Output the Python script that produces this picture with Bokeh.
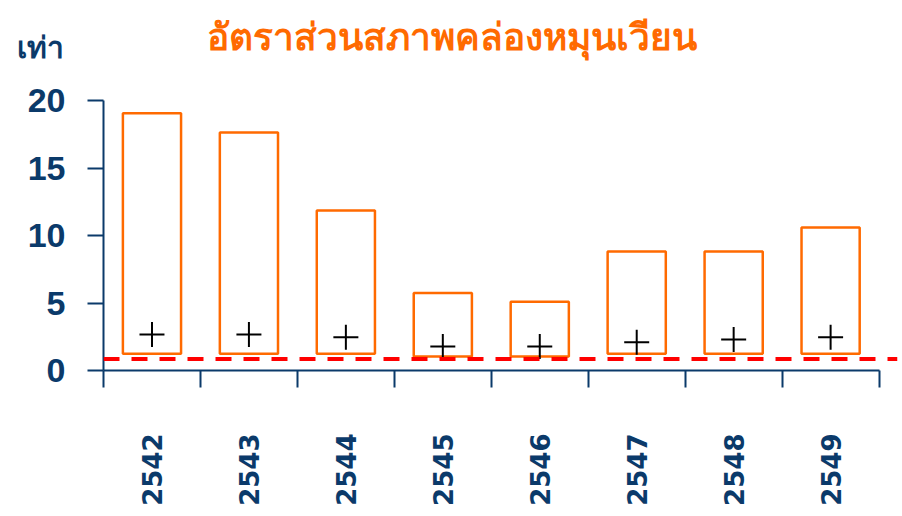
import math
from bokeh.plotting import figure
from bokeh.models import FixedTicker, Span, Label, Range1d
from bokeh.embed import file_html
from bokeh.resources import INLINE

# ---- data ----
years = ["2542", "2543", "2544", "2545", "2546", "2547", "2548", "2549"]
bar_high = [19.06, 17.63, 11.85, 5.75, 5.09, 8.81, 8.81, 10.59]
bar_low = [1.24, 1.24, 1.24, 1.04, 1.04, 1.24, 1.24, 1.24]
cross_val = [2.67, 2.67, 2.47, 1.78, 1.78, 2.10, 2.30, 2.47]
threshold = 0.86
y_ticks = [0, 5, 10, 15, 20]
title_text = "อัตราส่วนสภาพคล่องหมุนเวียน"
y_unit = "เท่า"

NAVY = "#0B3A6A"
ORANGE = "#FF6A00"

xc = [i + 0.5 for i in range(len(years))]

p = figure(width=902, height=516, output_backend="svg", toolbar_location=None,
           x_range=Range1d(0, 8.19), y_range=Range1d(0, 20),
           min_border_left=103, min_border_top=100, min_border_right=5,
           min_border_bottom=146)
p.outline_line_color = None
p.grid.visible = False
p.background_fill_color = "white"

p.vbar(x=xc, bottom=bar_low, top=bar_high, width=0.6, fill_color=None,
       line_color=ORANGE, line_width=2.5)
p.scatter(x=xc, y=cross_val, marker="cross", size=25, line_color="black",
          line_width=2)

p.add_layout(Span(location=threshold, dimension="width", line_color="#FF0000",
                  line_width=4, line_dash="16 12"))

# y axis
ya = p.yaxis[0]
ya.ticker = FixedTicker(ticks=y_ticks)
ya.bounds = (0, 20)
ya.axis_line_color = NAVY
ya.axis_line_width = 2
ya.major_tick_line_color = NAVY
ya.major_tick_line_width = 2
ya.major_tick_out = 16
ya.major_tick_in = 0
ya.minor_tick_line_color = None
ya.major_label_text_font = "Liberation Sans"
ya.major_label_text_font_style = "bold"
ya.major_label_text_font_size = "34px"
ya.major_label_text_color = NAVY
ya.major_label_standoff = 22

# x axis
xa = p.xaxis[0]
xa.ticker = FixedTicker(ticks=xc, minor_ticks=list(range(0, 9)))
xa.bounds = (0, 8)
xa.axis_line_color = NAVY
xa.axis_line_width = 2
xa.major_tick_out = 0
xa.major_tick_in = 0
xa.major_tick_line_color = None
xa.minor_tick_line_color = NAVY
xa.minor_tick_line_width = 2
xa.minor_tick_out = 17
xa.minor_tick_in = 0
xa.major_label_overrides = {x: y for x, y in zip(xc, years)}
xa.major_label_orientation = math.pi / 2
xa.major_label_text_font = "DejaVu Sans"
xa.major_label_text_font_style = "bold"
xa.major_label_text_font_size = "26px"
xa.major_label_text_color = NAVY
xa.major_label_standoff = 46

# title and unit, placed in the "above" side panel so they are not clipped
p.add_layout(Label(x=348, y=63, x_units="screen", y_units="screen",
                   text=title_text, text_align="center",
                   text_baseline="middle", text_font_size="37px",
                   text_font_style="bold", text_color=ORANGE), "above")
p.add_layout(Label(x=-63, y=12, x_units="screen", y_units="screen",
                   text=y_unit, text_align="center",
                   text_baseline="middle", text_font_size="30px",
                   text_font_style="bold", text_color=NAVY), "above")

open("out.html", "w").write(file_html(p, INLINE))
